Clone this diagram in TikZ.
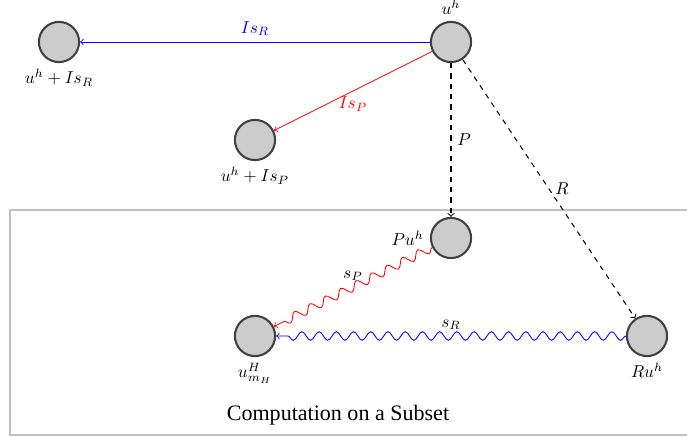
\documentclass[tikz,border=0pt]{standalone}
\usepackage{fontspec}
\newfontfamily\subsetfont{Liberation Serif}
\usetikzlibrary{positioning,decorations.pathmorphing}
\tikzset{
  st/.style    ={circle, draw=black!75, very thick, fill=black!20,
                 minimum size=8.2mm, inner sep=0pt},
  fl/.style    ={->, line width=0.5pt},
  flr/.style   ={fl, draw=red},
  flb/.style   ={fl, draw=blue},
  fld/.style   ={->, semithick, dashed},
  sn/.style    ={->, line width=0.5pt, decorate,
                 decoration={snake, amplitude=2.5pt, segment length=10pt, post length=1mm}},
  frm/.style   ={draw=black!25, thick}
}
\begin{document}
\begin{tikzpicture}[node distance=2cm and 2cm, on grid]
  \useasboundingbox (-9.204,0.857) rectangle (4.816,-8.061);
  \draw[frm] (-9.0,-3.43) rectangle (5.2,-8.02);
  \node[st,label=above:$u^h$] (uh) at (0,0) {};
  \node[st,left=8cm of uh,label=below:$u^h+Is_R$] (uhr) {};
  \node[st,below left=2cm and 4cm of uh,label=below:$u^h+Is_P$] (uhp) {};
  \node[st,below=4cm of uh,label=left:$Pu^h$] (puh) {};
  \node[st,below left=2cm and 4cm of puh,label=below:$u^H_{m_H}$] (umh) {};
  \node[st,below right=2cm and 4cm of puh,label=below:$Ru^h$] (ruh) {};
  \node[font=\subsetfont\fontsize{12.8}{15}\selectfont] (cmp) at (-2.306,-7.61) {Computation on a Subset};
  \draw[flb] (uh) -- node[midway,above,text=blue] {$Is_R$} (uhr);
  \draw[flr] (uh) -- node[midway,below,text=red] {$Is_P$} (uhp);
  \draw[fld] (uh) -- node[midway,right] {$P$} (puh);
  \draw[fld] (uh) -- node[midway,right] {$R$} (ruh);
  \draw[sn,red] (puh) -- node[midway,above,text=black] {$s_P$} (umh);
  \draw[sn,blue] (ruh) -- node[midway,above,text=black] {$s_R$} (umh);
\end{tikzpicture}
\end{document}
